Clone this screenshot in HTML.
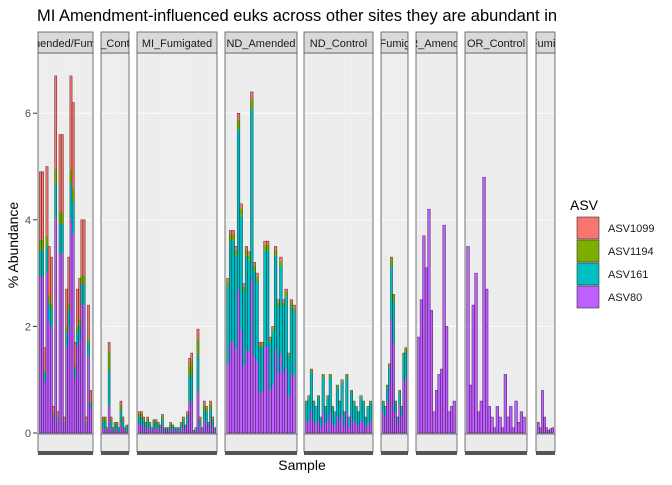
<!DOCTYPE html>
<html><head><meta charset="utf-8"><style>
body{margin:0;background:#fff;}
svg text{font-family:"Liberation Sans",sans-serif;}
</style></head><body>
<svg id="chart" width="672" height="480" xmlns="http://www.w3.org/2000/svg">
<text x="37" y="21" font-size="16.5" fill="#000">MI Amendment-influenced euks across other sites they are abundant in</text>
<text transform="translate(18,245) rotate(-90)" text-anchor="middle" font-size="14">% Abundance</text>
<text x="302" y="470" text-anchor="middle" font-size="14">Sample</text>
<g id="panels"></g>
<g id="legend">
<text x="570" y="210" font-size="14">ASV</text>
</g>
</svg>
<script>
const facetNames = ["MI_Amended/Fumigated","MI_Control","MI_Fumigated","ND_Amended","ND_Control","ND_Fumigated","OR_Amended","OR_Control","OR_Fumigated"];
const totals1 = [4.9,4.9,1.6,5.0,3.5,3.3,0.5,6.7,0.4,5.6,5.6,0.3,2.7,3.3,6.7,6.2,1.7,2.7,2.9,4.0,4.0,0.3,2.4,0.8];
const totals2 = [0.3,0.3,0.1,1.7,0.3,0.1,0.2,0.2,0.1,0.6,0.3,0.1,0.15];
const totals3 = [0.4,0.4,0.3,0.2,0.3,0.2,0.1,0.25,0.25,0.2,0.15,0.35,0.1,0.1,0.1,0.2,0.15,0.1,0.1,0.1,0.2,0.3,0.15,0.4,1.4,1.5,0.05,0.1,1.95,0.3,0.1,0.6,0.5,0.2,0.6,0.3,0.1];
const totals4 = [2.9,3.8,3.8,3.5,6.0,4.3,2.8,3.5,3.4,6.4,3.2,3.0,1.7,1.7,3.6,3.6,1.8,2.0,3.5,2.5,3.3,2.5,2.7,1.5,2.5,2.4];
const totals5 = [0.6,0.7,1.2,0.6,0.5,0.7,0.3,1.1,0.5,0.7,1.1,0.5,0.4,0.9,0.6,1.0,0.4,1.1,0.3,0.8,0.6,0.5,0.4,0.7,0.6,0.3,0.5,0.6];
const totals6 = [0.6,0.5,0.9,1.3,3.3,2.6,0.6,0.3,0.8,0.5,1.5,1.6];
const totals7 = [1.8,2.5,3.7,3.1,4.2,2.3,0.4,0.8,1.1,1.2,3.9,2.0,0.4,0.5,0.6];
const totals8 = [3.5,0.9,2.4,3.0,0.4,0.6,4.8,2.7,0.5,0.3,0.1,0.5,0.3,0.1,1.1,0.3,0.5,0.1,0.6,0.2,0.4,0.3];
const totals9 = [0.2,0.1,0.8,0.3,0.1,0.05,0.08,0.1];
const share80 = [0.6,0.3,0.4,0.45,0.35,0.65,1,1,1];
const share161 = [0.1,0.4,0.35,0.5,0.6,0.3,0,0,0];
const share1194 = [0.04,0.2,0.15,0.03,0.04,0.05,0,0,0];
const share1099 = [0.26,0.1,0.1,0.02,0.01,0,0,0,0];
const seriesNames = ["ASV1099","ASV1194","ASV161","ASV80"];
const seriesColors = ["#F8766D","#7CAE00","#00BFC4","#BF5FFF"];
const yTicks = [0,2,4,6];

const allTotals=[totals1,totals2,totals3,totals4,totals5,totals6,totals7,totals8,totals9];
const px=[[38,93],[101,129],[137,217],[225,297],[304,373],[381,408],[416,457],[465,527],[536,555]];
const NS="http://www.w3.org/2000/svg";
const y0=433, topY=53, k=53.3;
const yS=v=>y0-v*k;
const g=document.getElementById('panels');
function mk(t,a,p){const e=document.createElementNS(NS,t);for(const n in a)e.setAttribute(n,a[n]);(p||g).appendChild(e);return e;}
yTicks.forEach(t=>{
 const l=mk('line',{x1:33,x2:37,y1:yS(t),y2:yS(t),stroke:'#333'});
 
 
 const tx=mk('text',{x:31,y:yS(t)+4,'text-anchor':'end','font-size':11,fill:'#4d4d4d'});tx.textContent=t;
 
 
});
allTotals.forEach((tot,fi)=>{
 const [xa,xb]=px[fi];const w=xb-xa;
 const pg=mk('g',{});
 
 
 mk('rect',{x:xa,y:topY,width:w,height:y0+1-topY,fill:'#EBEBEB'},pg);
 const cp=mk('clipPath',{id:'c'+fi},pg);
 mk('rect',{x:xa,y:32,width:w,height:21},cp);
 yTicks.forEach(t=>mk('line',{x1:xa,x2:xb,y1:yS(t),y2:yS(t),stroke:'#fff','stroke-width':1},pg));
 const n=tot.length, bw=w/(n+1.2);
 const xS=i=>xa+bw*(0.6+i);
 for(let i=0;i<n;i++) mk('line',{x1:xS(i)+bw/2,x2:xS(i)+bw/2,y1:topY,y2:y0,stroke:'#f5f5f5','stroke-width':0.5},pg);
 const sh=[share80[fi],share161[fi],share1194[fi],share1099[fi]];
 const cols=[seriesColors[3],seriesColors[2],seriesColors[1],seriesColors[0]];
 tot.forEach((v,i)=>{
  let acc=0;
  sh.forEach((s,j)=>{
   if(s<=0)return;const h=v*s;
   const r=mk('rect',{x:xS(i),y:yS(acc+h),width:bw+0.3,height:h*k,fill:cols[j]},pg);
   
   
   acc+=h;
  });
  const o=mk('rect',{x:xS(i),y:yS(v),width:bw,height:v*k,fill:'none',stroke:'#000','stroke-width':0.45,'stroke-opacity':0.75},pg);
  
  
 });
 mk('rect',{x:xa,y:topY,width:w,height:y0+1-topY,fill:'none',stroke:'#555','stroke-width':0.8},pg);
 mk('rect',{x:xa,y:434,width:w,height:18,fill:'#EBEBEB',stroke:'#555','stroke-width':0.8},pg);
 mk('rect',{x:xa,y:451,width:w,height:4,fill:'#555'},pg);
 const st=mk('rect',{x:xa,y:32,width:w,height:21,fill:'#D9D9D9',stroke:'#555','stroke-width':0.8},pg);
 
 
 const tx=mk('text',{x:(xa+xb)/2,y:47,'text-anchor':'middle','font-size':11,fill:'#1a1a1a','clip-path':'url(#c'+fi+')'},pg);
 tx.textContent=facetNames[fi];
 
 
});
const lg=document.getElementById('legend');
seriesNames.forEach((s,i)=>{
 const yy=217+i*23;
 const r=mk('rect',{x:577,y:yy,width:22,height:22,fill:seriesColors[i],stroke:'#333','stroke-width':0.6},lg);
 
 
 const t=mk('text',{x:608,y:yy+15,'font-size':11,fill:'#1a1a1a'},lg);t.textContent=s;
 
 
});
</script>
</body></html>
